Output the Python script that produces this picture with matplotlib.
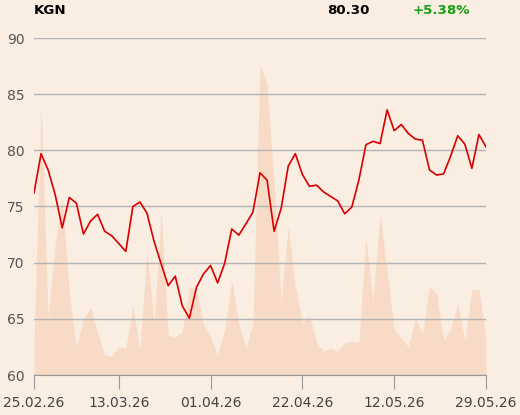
import matplotlib
matplotlib.use("Agg")
import matplotlib.pyplot as plt
import pandas as pd
import numpy as np

ticker = "KGN"
holidays = ["2026-04-03", "2026-04-06", "2026-05-01"]
tick_dates = ["25.02.26", "13.03.26", "01.04.26", "22.04.26", "12.05.26", "29.05.26"]
yticks = [60, 65, 70, 75, 80, 85, 90]

price = [76.2, 79.7, 78.25, 76.05, 73.1, 75.8, 75.3, 72.55, 73.7, 74.3,
         72.8, 72.4, 71.7, 71.0, 75.0, 75.4, 74.4, 71.9, 69.9, 67.95,
         68.8, 66.15, 65.05, 67.8, 69.0, 69.75, 68.2, 69.95, 73.0, 72.45,
         73.45, 74.5, 78.0, 77.35, 72.8, 74.85, 78.6, 79.7, 77.85, 76.8,
         76.9, 76.3, 75.9, 75.5, 74.35, 74.95, 77.35, 80.5, 80.8, 80.6,
         83.6, 81.75, 82.3, 81.5, 81.0, 80.9, 78.25, 77.8, 77.9, 79.5,
         81.3, 80.55, 78.4, 81.4, 80.3]

volume = [27, 240, 51, 117, 157, 73, 25, 50, 60, 38,
          18, 17, 25, 24, 61, 22, 111, 46, 145, 35,
          34, 38, 79, 76, 45, 34, 18, 41, 84, 46,
          23, 47, 276, 259, 170, 65, 133, 79, 47, 53,
          29, 21, 24, 21, 29, 30, 29, 124, 65, 144,
          92, 41, 33, 25, 51, 36, 79, 72, 31, 41,
          63, 31, 76, 76, 33]

dates = pd.bdate_range("2026-02-25", "2026-05-29")
dates = dates[~dates.isin(pd.to_datetime(holidays))]
x = np.arange(len(dates))
labels = [d.strftime("%d.%m.%y") for d in dates]
tick_pos = [labels.index(t) for t in tick_dates]

bg = "#FAEDE1"
fig = plt.figure(figsize=(5.2, 4.15), dpi=100, facecolor=bg)
rect = [34 / 520, 1 - 375 / 415, 452 / 520, (375 - 38) / 415]

axv = fig.add_axes(rect)
axv.set_facecolor(bg)
axv.fill_between(x, 0, volume, color="#F7DBC6", linewidth=0)
axv.set_ylim(0, 300)
axv.set_xlim(0, len(x) - 1)
axv.axis("off")

ax = fig.add_axes(rect, sharex=axv)
ax.patch.set_visible(False)
ax.plot(x, price, color="#D90000", linewidth=1.2, zorder=3)
ax.set_ylim(60, 90)
ax.set_xlim(0, len(x) - 1)
ax.set_yticks(yticks)
ax.grid(axis="y", color="#B4B4B4", linewidth=1)
ax.set_axisbelow(True)
for s in ["left", "right", "top"]:
    ax.spines[s].set_visible(False)
ax.spines["bottom"].set_color("#999999")
ax.set_xticks(tick_pos)
ax.set_xticklabels(tick_dates)
ax.tick_params(axis="x", length=10, color="#999999", labelsize=10,
               labelcolor="#444444", pad=5)
ax.tick_params(axis="y", length=0, labelsize=10, labelcolor="#555555", pad=7)

change = (price[-1] / price[0] - 1) * 100
fig.text(34 / 520, 1 - 10 / 415, ticker, fontsize=9.6, fontweight="bold",
         ha="left", va="center", color="black")
fig.text(369 / 520, 1 - 10 / 415, f"{price[-1]:.2f}", fontsize=9.6,
         fontweight="bold", ha="right", va="center", color="black")
fig.text(470 / 520, 1 - 10 / 415, f"{change:+.2f}%", fontsize=9.6,
         fontweight="bold", ha="right", va="center", color="#14A014")

fig.savefig("out.png", dpi=100, facecolor=bg)
